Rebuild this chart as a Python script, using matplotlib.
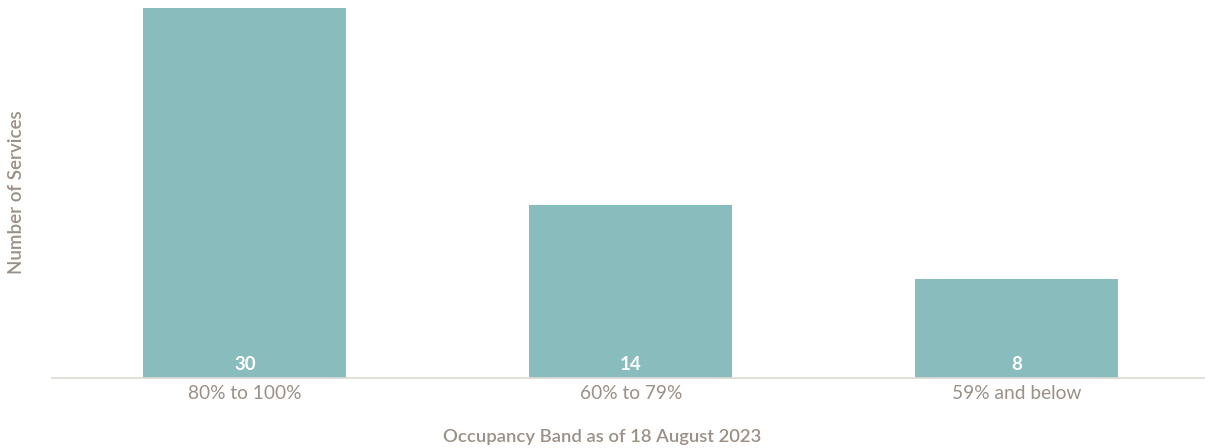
import matplotlib.pyplot as plt

plt.rcParams['font.family'] = ['Lato', 'DejaVu Sans']

bands = ['80% to 100%', '60% to 79%', '59% and below']
services = [30, 14, 8]

bar_color = '#89bdbd'
text_color = '#9a9088'
axis_color = '#ddd8d3'

fig = plt.figure(figsize=(12.11, 4.48), dpi=100)
ax = fig.add_axes([52 / 1211, 70 / 448, 1152 / 1211, 370 / 448])

x = range(len(bands))
bars = ax.bar(x, services, width=0.526, color=bar_color)

# value labels sit just inside the bottom of each bar
for rect, val in zip(bars, services):
    ax.text(rect.get_x() + rect.get_width() / 2, 0.4, str(val),
            ha='center', va='bottom', color='white', fontsize=13.5,
            fontweight='bold')

ax.set_xlim(-0.5, 2.485)
ax.set_ylim(0, 30)
ax.set_xticks(list(x))
ax.set_xticklabels(bands, color=text_color, fontsize=13.8)
ax.tick_params(axis='x', length=0, pad=5)
ax.set_yticks([])

for side in ['top', 'right', 'left']:
    ax.spines[side].set_visible(False)
ax.spines['bottom'].set_color(axis_color)
ax.spines['bottom'].set_linewidth(1.2)

fig.text(602 / 1211, 1 - 437 / 448, 'Occupancy Band as of 18 August 2023',
         ha='center', va='center', color=text_color, fontsize=13.3,
         fontweight='semibold')
fig.text(17 / 1211, 1 - 192 / 448, 'Number of Services', rotation=90,
         ha='center', va='center', color=text_color, fontsize=13.5,
         fontweight='semibold')

fig.savefig('out.png', dpi=100)
